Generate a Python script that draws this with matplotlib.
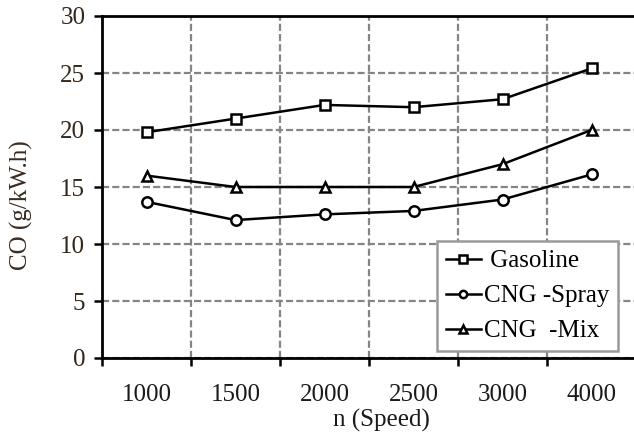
import matplotlib
matplotlib.use('Agg')
from matplotlib import pyplot as plt

speeds = ['1000', '1500', '2000', '2500', '3000', '4000']
gasoline = [19.8, 21.0, 22.2, 22.0, 22.7, 25.4]
cng_spray = [13.7, 12.1, 12.6, 12.9, 13.9, 16.1]
cng_mix = [16.0, 15.0, 15.0, 15.0, 17.0, 20.0]

plt.rcParams['font.family'] = ['Liberation Serif', 'DejaVu Serif']

fig = plt.figure(figsize=(6.34, 4.41), dpi=100)
ax = fig.add_axes([102 / 634, 1 - 358 / 441, 534 / 634, 342 / 441])

x = list(range(len(speeds)))
style = dict(color='black', lw=1.8, markersize=7.5, markeredgewidth=1.8,
             markerfacecolor='white', markeredgecolor='black', zorder=3)
ax.plot(x, gasoline, marker='s', label=' Gasoline', **style)
ax.plot(x, cng_spray, marker='o', label='CNG -Spray', **style)
ax.plot(x, cng_mix, marker='^', label='CNG  -Mix', **style)

ax.set_xlim(-0.5, len(speeds) - 0.5)
ax.set_ylim(0, 30)
ax.set_yticks(range(0, 31, 5))

# category boundaries carry the ticks and grid, labels sit in the middle
ax.set_xticks([i - 0.5 for i in range(len(speeds) + 1)])
ax.set_xticklabels([])
ax.set_xticks(x, minor=True)
ax.set_xticklabels(speeds, minor=True)
ax.tick_params(axis='x', which='minor', length=0, pad=19, labelsize=18, labelcolor='#1a1a1a')
ax.tick_params(axis='x', which='major', direction='out', length=6, width=1.8)
ax.tick_params(axis='y', direction='out', length=6, width=1.8, pad=6,
               labelsize=18, labelcolor='#33261a')

ax.grid(True, which='major', color='#858585', lw=1.6, linestyle=(0, (3.2, 1.4)))
ax.set_axisbelow(True)

for s in ['left', 'top', 'bottom']:
    ax.spines[s].set_linewidth(2.0)
    ax.spines[s].set_color('black')
ax.spines['right'].set_visible(False)

ax.set_xlabel('n (Speed)', fontsize=18, color='#1a1a1a', labelpad=0)
ax.xaxis.set_label_coords((381 - 102) / 534, -0.15)
ax.set_ylabel('CO (g/kW.h)', fontsize=18, color='#3a2c20')
ax.yaxis.set_label_coords(-0.13, 0.447)

leg = ax.legend(loc='lower left', bbox_to_anchor=(0.627, 0.02), borderaxespad=0,
                fontsize=18, frameon=True, fancybox=False, framealpha=1,
                edgecolor='#9a9a9a', handlelength=1.4, handletextpad=0.12,
                labelspacing=0.5, borderpad=0.35, markerscale=0.7)
leg.get_frame().set_linewidth(1.8)

fig.savefig('out.png', dpi=100)
